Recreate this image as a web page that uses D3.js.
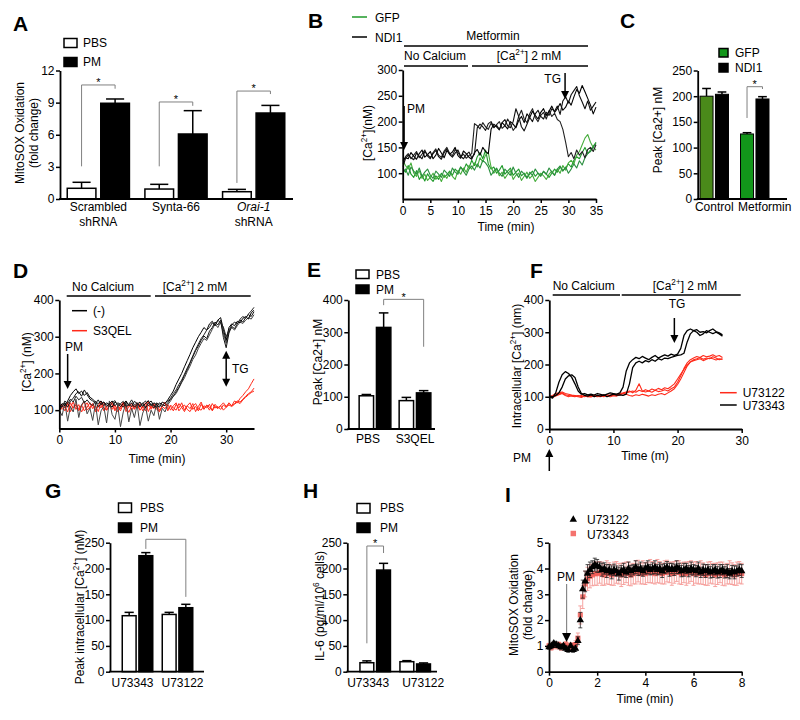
<!DOCTYPE html>
<html><head><meta charset="utf-8">
<script src="https://cdn.jsdelivr.net/npm/d3@7"></script>
<style>body{margin:0;background:#fff}svg{display:block}</style>
</head><body>
<script>
// ================= DATA =================
// Panel A
const A_groupLabels = [["Scrambled","shRNA"],["Synta-66"],["Orai-1","shRNA"]];
const A_legend = ["PBS","PM"];
const A_PBS = [1.0, 0.93, 0.68];
const A_PBS_err = [0.56, 0.44, 0.22];
const A_PM = [8.94, 6.07, 8.03];
const A_PM_err = [0.40, 2.18, 0.71];
const A_yTicks = [0,3,6,9,12];

// Panel B (samples every 0.5 min, 0..35)
const B_step = 0.5;
const B_NDI1_1 = [118,132,138,128,135,142,130,137,145,133,128,140,147,135,131,143,150,138,134,146,140,132,137,129,134,138,196,192,186,198,190,185,197,188,194,200,187,192,205,196,183,190,210,222,205,198,215,225,208,200,212,218,205,221,210,216,204,200,185,160,132,140,128,145,135,142,130,146,150,142,155];
const B_NDI1_2 = [125,130,128,140,133,127,138,145,131,136,142,128,135,148,139,130,144,137,141,150,134,129,143,138,131,127,140,146,135,150,142,138,185,195,190,184,198,192,186,200,195,188,202,210,198,215,208,220,212,205,218,225,212,220,230,218,225,235,222,228,240,232,248,262,255,270,258,245,232,215,228];
const B_NDI1_3 = [112,128,135,130,126,139,133,128,142,136,130,138,144,132,127,140,147,136,131,139,145,133,128,136,141,130,137,188,195,190,183,196,200,189,193,185,198,204,192,188,200,225,210,190,182,195,208,200,215,222,210,205,218,212,225,220,230,214,240,248,236,252,260,268,250,238,225,240,222,230,238];
const B_GFP_1 = [110,102,115,98,92,105,88,96,85,99,90,84,95,88,100,92,97,104,96,108,102,112,105,118,110,125,115,132,140,128,145,118,108,112,100,106,115,98,104,110,96,102,108,95,100,92,98,104,94,100,96,103,98,92,100,108,102,112,105,110,118,112,125,132,128,140,150,138,145,152,160];
const B_GFP_2 = [125,115,108,120,100,94,105,90,98,86,92,100,88,95,84,97,90,102,94,88,105,98,110,102,115,108,120,112,130,122,135,140,112,100,108,95,102,90,98,105,88,96,100,86,94,102,90,96,84,92,100,95,88,98,104,96,108,100,115,106,120,125,118,135,142,155,168,175,160,150,145];
const B_GFP_3 = [100,108,96,112,104,98,110,94,102,108,96,90,104,98,92,106,100,94,110,102,98,112,104,96,108,114,106,118,110,125,120,112,96,104,110,100,94,108,102,96,112,100,92,104,98,90,102,96,108,100,94,104,98,110,102,96,108,114,104,112,100,108,118,110,124,116,130,138,142,150,158];
const B_yTicks = [100,150,200,250,300];
const B_xTicks = [0,5,10,15,20,25,30,35];

// Panel C
const C_groups = ["Control","Metformin"];
const C_legend = ["GFP","NDI1"];
const C_GFP = [200, 126.5];
const C_GFP_err = [15, 2.5];
const C_NDI1 = [203.7, 194.6];
const C_NDI1_err = [4.5, 4.5];
const C_yTicks = [0,50,100,150,200,250];

// Panel D (samples every 0.5 min, 0..35)
const D_step = 0.5;
const D_ctrl_1 = [105,118,112,125,140,150,158,145,152,140,148,135,130,122,118,125,112,120,115,108,122,116,110,118,125,112,120,108,116,122,110,118,126,112,120,115,108,122,118,128,140,152,170,185,200,218,235,252,270,285,300,312,325,318,335,342,330,345,352,320,290,325,335,330,342,338,350,355,348,365,372];
const D_ctrl_2 = [98,112,120,108,125,132,145,150,138,155,142,130,125,118,128,115,122,110,118,125,112,120,116,108,122,115,110,124,118,112,120,106,118,125,112,108,120,115,112,120,130,138,150,162,178,195,210,228,245,262,275,290,302,295,315,325,340,332,345,298,270,310,328,322,335,345,340,352,360,355,368];
const D_ctrl_3 = [115,108,125,118,130,122,138,128,135,120,128,118,112,125,108,118,122,115,110,120,126,112,118,124,110,116,128,114,120,108,118,125,112,118,106,120,114,110,120,125,132,145,155,170,182,198,215,230,248,265,280,295,305,318,325,338,330,345,338,326,300,318,332,340,335,348,355,350,362,370,380];
const D_ctrl_4 = [100,85,120,70,110,95,130,80,115,125,90,105,72,118,60,98,110,65,125,88,75,112,55,95,120,68,105,80,115,58,92,110,70,100,85,118,75,105,95,115,125,138,145,160,175,188,205,220,238,250,268,282,295,290,305,320,335,325,340,310,282,315,325,318,330,340,336,345,352,348,360];
const D_s3qel_1 = [105,112,98,118,108,122,102,115,95,110,120,104,116,100,112,125,98,108,118,102,114,96,110,122,104,116,100,112,106,118,98,110,124,102,114,108,96,112,120,104,110,98,116,106,120,100,112,104,118,96,110,122,102,114,108,100,116,106,112,120,110,118,112,125,120,132,140,150,158,172,185];
const D_s3qel_2 = [118,102,110,95,120,106,114,98,112,124,100,108,118,96,114,106,122,100,110,116,98,112,104,120,96,110,118,102,114,100,108,120,96,112,104,118,100,110,122,98,114,106,100,118,108,96,112,120,102,110,98,116,104,112,100,118,106,110,102,114,108,120,112,118,125,122,130,138,145,150,160];
const D_s3qel_3 = [100,115,106,122,96,110,118,102,114,98,108,120,104,112,96,118,106,100,114,122,102,110,98,116,108,94,112,104,120,100,110,98,114,106,118,102,96,110,104,116,100,112,120,98,108,114,102,96,110,118,104,100,112,106,116,98,110,104,112,100,108,114,110,116,122,118,128,135,142,148,152];
const D_yTicks = [100,200,300,400];
const D_xTicks = [0,10,20,30];

// Panel E
const E_groups = ["PBS","S3QEL"];
const E_legend = ["PBS","PM"];
const E_PBS = [103, 88];
const E_PBS_err = [4, 10];
const E_PM = [315, 112];
const E_PM_err = [45, 7];
const E_yTicks = [0,100,200,300,400];

// Panel F (samples every 0.5 min, 0..27)
const F_step = 0.5;
const F_U73343_1 = [100,96,112,145,168,178,172,160,140,118,108,110,106,108,105,110,107,104,108,112,110,108,112,130,180,205,215,222,218,225,220,215,222,228,220,225,230,226,232,228,232,250,290,305,310,305,308,300,302,298,305,310,302,298,292];
const F_U73343_2 = [102,100,104,112,130,155,165,168,160,130,110,104,102,106,100,104,102,106,100,104,108,105,106,104,108,140,190,205,210,205,212,208,215,210,218,214,220,218,222,225,228,230,235,270,295,305,300,290,295,305,300,296,300,295,288];
const F_U73122_1 = [100,104,110,112,115,110,108,105,104,102,104,100,103,101,105,102,104,100,106,104,108,105,110,112,115,118,112,120,140,118,115,118,114,120,116,118,122,118,125,130,145,165,188,205,215,220,225,222,228,224,226,230,225,228,222];
const F_U73122_2 = [98,100,105,108,112,106,104,102,100,104,101,103,100,104,102,100,103,106,102,105,104,108,106,110,108,104,102,106,104,108,105,102,106,104,108,110,106,112,118,125,138,155,175,195,208,215,218,222,216,220,218,224,220,215,218];
const F_U73122_3 = [102,98,102,106,110,104,100,104,102,100,98,102,100,99,103,101,100,104,102,100,103,102,106,110,112,115,118,114,120,116,122,118,124,120,126,122,128,125,132,140,155,170,185,198,208,212,215,218,212,216,220,218,214,218,216];
const F_yTicks = [0,100,200,300,400];
const F_xTicks = [0,10,20,30];

// Panel G
const G_groups = ["U73343","U73122"];
const G_legend = ["PBS","PM"];
const G_PBS = [108.5, 111];
const G_PBS_err = [6.5, 4];
const G_PM = [224.8, 124];
const G_PM_err = [6, 6.6];
const G_yTicks = [0,50,100,150,200,250];

// Panel H
const H_groups = ["U73343","U73122"];
const H_legend = ["PBS","PM"];
const H_PBS = [17.4, 19.4];
const H_PBS_err = [3.6, 2];
const H_PM = [197, 15];
const H_PM_err = [13, 2];
const H_yTicks = [0,50,100,150,200,250];

// Panel I (samples every 0.1 min, 0..8)
const I_step = 0.1;
const I_U73122 = [0.95,1.0,1.1,1.05,1.0,0.95,1.0,0.9,0.85,1.0, 0.85,0.9,1.2,2.0,3.2,3.5,3.8,3.95,4.05,4.15, 4.1,4.05,3.95,4.0,3.9,3.95,3.85,3.95,3.9,3.8, 3.9,3.95,3.85,4.0,3.9,3.95,4.05,3.95,4.0,3.9, 4.0,4.05,3.95,4.0,4.05,3.95,4.0,3.9,4.0,4.05, 3.95,4.0,3.95,4.05,4.0,3.9,3.95,4.0,3.9,4.0, 3.95,3.9,4.0,3.85,3.95,3.9,3.95,3.85,3.9,3.95, 3.85,3.9,3.95,3.85,3.9,3.8,3.9,3.85,3.9,3.95, 3.9];
const I_U73122_err = [0.08,0.1,0.08,0.1,0.08,0.1,0.08,0.1,0.1,0.08, 0.1,0.1,0.15,0.3,0.35,0.4,0.35,0.3,0.25,0.25, 0.25,0.2,0.25,0.22,0.25,0.2,0.25,0.22,0.2,0.25, 0.22,0.25,0.2,0.25,0.22,0.2,0.25,0.22,0.25,0.2, 0.22,0.25,0.2,0.22,0.25,0.2,0.22,0.25,0.2,0.22, 0.25,0.2,0.22,0.25,0.2,0.22,0.25,0.2,0.22,0.25, 0.2,0.22,0.25,0.2,0.22,0.25,0.2,0.22,0.25,0.2, 0.22,0.25,0.2,0.22,0.25,0.2,0.22,0.25,0.2,0.22, 0.25];
const I_U73343 = [1.0,0.95,1.05,1.0,1.05,0.95,1.0,1.05,0.95,1.0, 1.0,1.05,1.3,2.2,2.9,3.4,3.6,3.7,3.75,3.8, 3.8,3.85,3.8,3.75,3.85,3.8,3.75,3.8,3.85,3.8, 3.75,3.8,3.85,3.8,3.75,3.8,3.85,3.9,3.8,3.85, 3.8,3.85,3.9,3.85,3.8,3.9,3.85,3.8,3.85,3.9, 3.85,3.8,3.85,3.9,3.85,3.8,3.85,3.8,3.85,3.9, 3.8,3.85,3.8,3.85,3.8,3.75,3.8,3.85,3.8,3.75, 3.8,3.85,3.8,3.75,3.8,3.85,3.8,3.75,3.8,3.85, 3.8];
const I_U73343_err = [0.1,0.12,0.1,0.12,0.1,0.12,0.1,0.12,0.1,0.12, 0.12,0.15,0.2,0.35,0.45,0.5,0.45,0.45,0.42,0.45, 0.45,0.42,0.45,0.4,0.45,0.42,0.4,0.45,0.42,0.4, 0.45,0.42,0.4,0.45,0.42,0.4,0.45,0.42,0.4,0.45, 0.42,0.4,0.45,0.42,0.4,0.45,0.42,0.4,0.45,0.42, 0.4,0.45,0.42,0.4,0.45,0.42,0.4,0.45,0.42,0.4, 0.45,0.42,0.4,0.45,0.42,0.4,0.45,0.42,0.4,0.45, 0.42,0.4,0.45,0.42,0.4,0.45,0.42,0.4,0.45,0.42, 0.4];
const I_yTicks = [0,1,2,3,4,5];
const I_xTicks = [0,2,4,6,8];

// ================= DRAWING =================
const FONT = "'Liberation Sans', Arial, Helvetica, sans-serif";
const svg = d3.select("body").append("svg").attr("width",800).attr("height",720)
  .style("font-family",FONT).style("background","#fff");
const defs = svg.append("defs");
const fmt = d3.format("d");

function txt(x,y,parts,o={}){
  const size=o.size||12;
  const t=svg.append("text").attr("x",x).attr("y",y).attr("font-size",size)
    .attr("fill",o.fill||"#000").attr("text-anchor",o.anchor||"start").style("white-space","pre");
  if(o.bold) t.attr("font-weight","bold");
  if(o.italic) t.attr("font-style","italic");
  if(o.rot) t.attr("transform",`rotate(-90,${x},${y})`);
  let pend=0;
  (Array.isArray(parts)?parts:[parts]).forEach(p=>{
    if(typeof p==="string"){const s=t.append("tspan").text(p); if(pend){s.attr("dy",pend);pend=0;}}
    else {t.append("tspan").attr("font-size",size*0.68).attr("dy",-size*0.38).text(p.sup); pend=size*0.38;}
  });
  return t;
}
function ln(x1,y1,x2,y2,c="#000",w=1.5){
  return svg.append("line").attr("x1",x1).attr("y1",y1).attr("x2",x2).attr("y2",y2).attr("stroke",c).attr("stroke-width",w);
}
function arrow(x,y1,y2,o={}){
  const dir=y2>y1?1:-1, hl=o.hl||8, hw=o.hw||4;
  ln(x,y1,x,y2-dir*hl*0.7,o.color||"#000",o.sw||1.5);
  svg.append("path").attr("d",`M${x-hw},${y2-dir*hl}L${x+hw},${y2-dir*hl}L${x},${y2}Z`).attr("fill","#000");
}
function styleAxis(g){
  g.select(".domain").attr("stroke","#000").attr("stroke-width",1.8);
  g.selectAll(".tick line").attr("stroke","#000").attr("stroke-width",1.5);
  g.selectAll(".tick text").attr("font-size",12).attr("font-family",FONT).attr("fill","#000");
}
function yAxis(scale,x,ticks){
  const g=svg.append("g").attr("transform",`translate(${x},0)`)
    .call(d3.axisLeft(scale).tickValues(ticks).tickFormat(fmt).tickSize(4).tickSizeOuter(0).tickPadding(1.5));
  styleAxis(g); return g;
}
function xAxis(scale,y,ticks){
  const g=svg.append("g").attr("transform",`translate(0,${y})`)
    .call(d3.axisBottom(scale).tickValues(ticks).tickFormat(fmt).tickSize(4).tickSizeOuter(0).tickPadding(3));
  styleAxis(g); return g;
}
function bracket(xl,xr,yt,ylb,yrb){
  svg.append("path").attr("d",`M${xl},${ylb}V${yt}H${xr}V${yrb}`).attr("fill","none")
    .attr("stroke","#808080").attr("stroke-width",1);
}
function star(x,y){ txt(x,y,"*",{anchor:"middle",size:11}); }
function legendBox(x,y,w,h,fill,label,tx,ty){
  svg.append("rect").attr("x",x).attr("y",y).attr("width",w).attr("height",h).attr("fill",fill)
    .attr("stroke","#000").attr("stroke-width",1.5);
  txt(tx,ty,label);
}

function barPanel(o){
  const y=d3.scaleLinear().domain(o.yDomain).range([o.yBot,o.yTop]);
  const xg=d3.scaleBand().domain(d3.range(o.values[0].length)).range(o.band).paddingInner(o.pin).paddingOuter(o.pin/2);
  const xs=d3.scaleBand().domain(d3.range(o.values.length)).range([0,xg.bandwidth()]).paddingInner(o.sub);
  o.values.forEach((vals,si)=>vals.forEach((v,gi)=>{
    const bx=xg(gi)+xs(si), bw=xs.bandwidth(), cx=bx+bw/2, e=o.errors[si][gi];
    ln(cx,y(v),cx,y(v+e),"#000",1.5);
    ln(cx-bw*0.3,y(v+e),cx+bw*0.3,y(v+e),"#000",1.5);
    svg.append("rect").attr("x",bx+0.75).attr("y",y(v)).attr("width",bw-1.5).attr("height",o.yBot-y(v))
      .attr("fill",o.fill(si,gi)).attr("stroke","#000").attr("stroke-width",o.sw||1.5);
  }));
  yAxis(y,o.axisX,o.ticks);
  ln(o.axisX-0.9,o.yBot,o.axisEnd,o.yBot,"#000",1.8);
  return {y, cx:(gi,si)=>xg(gi)+xs(si)+xs.bandwidth()/2, gc:gi=>xg(gi)+xg.bandwidth()/2};
}
let clipN=0;
function clip(x0,y0,x1,y1){
  const id="clip"+(clipN++);
  defs.append("clipPath").attr("id",id).append("rect").attr("x",x0).attr("y",y0).attr("width",x1-x0).attr("height",y1-y0);
  return `url(#${id})`;
}
function traces(list,x,y,step,color,w,cp){
  const g=svg.append("g").attr("clip-path",cp);
  const line=d3.line().x((d,i)=>x(i*step)).y(d=>y(d));
  list.forEach((arr,k)=>g.append("path").datum(arr).attr("d",line).attr("fill","none")
    .attr("stroke",Array.isArray(color)?color[k%color.length]:color).attr("stroke-width",w).attr("stroke-linejoin","round"));
}

// ---------- Panel A ----------
(function(){
  const p=barPanel({yDomain:[0,12],yTop:70.5,yBot:199,axisX:60,axisEnd:293,band:[59.5,292.5],pin:0.18,sub:0.1,
    ticks:A_yTicks,values:[A_PBS,A_PM],errors:[A_PBS_err,A_PM_err],fill:(si)=>si===0?"#fff":"#000"});
  A_groupLabels.forEach((lines,gi)=>lines.forEach((l,li)=>txt(p.gc(gi),211+li*15,l,{anchor:"middle",italic:l==="Orai-1"})));
  const y=p.y;
  bracket(p.cx(0,0),p.cx(0,1),y(10.65),y(3.05),y(10.3)); star(p.gc(0),y(10.65)+1);
  bracket(p.cx(1,0),p.cx(1,1),y(9.06),y(3.05),y(8.7)); star(p.gc(1),y(9.06)+1);
  bracket(p.cx(2,0),p.cx(2,1),y(10.08),y(1.5),y(9.8)); star(p.gc(2),y(10.08)+1);
  legendBox(64,38.5,13,9,"#fff",A_legend[0],83,47);
  legendBox(64,57.5,13,9,"#000",A_legend[1],83,66);
  txt(24,133,"MitoSOX Oxidation",{rot:true,anchor:"middle"});
  txt(38,133,"(fold change)",{rot:true,anchor:"middle"});
  txt(13,31,"A",{size:21,bold:true});
})();

// ---------- Panel B ----------
(function(){
  const x=d3.scaleLinear().domain([0,35]).range([402.7,596]);
  const y=d3.scaleLinear().domain([50,300]).range([199,70]);
  const cp=clip(402.7,60,598,199);
  traces([B_GFP_1,B_GFP_2,B_GFP_3],x,y,B_step,["#1f9a2a","#46ad3c","#2a8f3f"],1.1,cp);
  traces([B_NDI1_1,B_NDI1_2,B_NDI1_3],x,y,B_step,["#222","#000","#111"],1.1,cp);
  yAxis(y,402.7,B_yTicks);
  xAxis(x,199,B_xTicks);
  txt(506,231,"Time (min)",{anchor:"middle"});
  txt(372,133,["[Ca",{sup:"2+"},"](nM)"],{rot:true,anchor:"middle"});
  ln(352,17,367,17,"#1f9a2a",1.5); txt(375,22,"GFP");
  ln(352,37,367,37,"#000",1.5); txt(375,42,"NDI1");
  txt(493,40,"Metformin",{anchor:"middle"});
  ln(404,46,588,46,"#000",1.5);
  txt(404,60,"No Calcium");
  ln(404,66,468,66,"#000",1.5);
  txt(529,60,["[Ca",{sup:"2+"},"] 2 mM"],{anchor:"middle"});
  ln(472,66,588,66,"#000",1.5);
  txt(407,113,"PM");
  arrow(x(0.25),106,150);
  txt(561,83,"TG",{anchor:"end"});
  arrow(x(29.4),73,99);
  txt(308,28,"B",{size:21,bold:true});
})();

// ---------- Panel C ----------
(function(){
  const p=barPanel({yDomain:[0,250],yTop:70.5,yBot:199,axisX:697.7,axisEnd:787,band:[694,775],pin:0.26,sub:0.06,
    ticks:C_yTicks,values:[C_GFP,C_NDI1],errors:[C_GFP_err,C_NDI1_err],sw:1,
    fill:(si,gi)=>si===1?"#000":(gi===0?"#4a8a1a":"#12961a")});
  txt(p.gc(0),211,C_groups[0],{anchor:"middle"});
  txt(p.gc(1)+10,211,C_groups[1],{anchor:"middle"});
  const y=p.y;
  bracket(p.cx(1,0),p.cx(1,1),y(218.5),y(157.6),y(214)); star(p.gc(1),y(218.5)+1);
  legendBox(719,48.5,9,8.5,"#12961a",C_legend[0],735,57);
  legendBox(719,63.5,9,8.5,"#000",C_legend[1],735,72);
  txt(662,130,"Peak [Ca2+] nM",{rot:true,anchor:"middle"});
  txt(620,28,"C",{size:21,bold:true});
})();

// ---------- Panel D ----------
(function(){
  const x=d3.scaleLinear().domain([0,35]).range([59.3,254]);
  const y=d3.scaleLinear().domain([50,400]).range([428.5,300]);
  const cp=clip(59.3,290,256,428.5);
  traces([D_s3qel_1,D_s3qel_2,D_s3qel_3],x,y,D_step,"#ff2a1a",1,cp);
  traces([D_ctrl_4,D_ctrl_1,D_ctrl_2,D_ctrl_3],x,y,D_step,["#444","#000","#111","#222"],1,cp);
  yAxis(y,59.3,D_yTicks);
  xAxis(x,428.5,D_xTicks);
  txt(157,463,"Time (min)",{anchor:"middle"});
  txt(31,362,["[Ca",{sup:"2+"},"] (nM)"],{rot:true,anchor:"middle"});
  txt(72,291,"No Calcium"); ln(66.7,296,150.7,296,"#000",1.5);
  txt(195,291,["[Ca",{sup:"2+"},"] 2 mM"],{anchor:"middle"}); ln(155,296,250.7,296,"#000",1.5);
  ln(72,310.7,87,310.7,"#000",1.5); txt(93,315,"(-)");
  ln(72,330.7,87,330.7,"#ff2a1a",1.5); txt(93,335,"S3QEL");
  txt(65,350.5,"PM"); arrow(x(1.5),354,389);
  const tx=x(30);
  ln(tx,357,tx,380,"#000",1.5);
  svg.append("path").attr("d",`M${tx-4},${358.7}L${tx+4},${358.7}L${tx},${350.7}Z`).attr("fill","#000");
  svg.append("path").attr("d",`M${tx-4},${378.7}L${tx+4},${378.7}L${tx},${386.7}Z`).attr("fill","#000");
  txt(232,373,"TG");
  txt(13,278,"D",{size:21,bold:true});
})();

// ---------- Panel E ----------
(function(){
  const p=barPanel({yDomain:[0,400],yTop:300,yBot:429,axisX:348.3,axisEnd:435,band:[355,435],pin:0.17,sub:0.08,
    ticks:E_yTicks,values:[E_PBS,E_PM],errors:[E_PBS_err,E_PM_err],fill:(si)=>si===0?"#fff":"#000"});
  txt(p.gc(0)-7,443,E_groups[0],{anchor:"middle"});
  txt(p.gc(1),443,E_groups[1],{anchor:"middle"});
  const y=p.y;
  bracket(p.cx(0,1),p.cx(1,1),y(402),y(384),y(255));
  star((p.cx(0,1)+p.cx(1,1))/2,y(402)+1.5);
  legendBox(356,270,13,8.5,"#fff",E_legend[0],376,279);
  legendBox(356,285,13,8.5,"#000",E_legend[1],376,294);
  txt(322,362,"Peak [Ca2+] nM",{rot:true,anchor:"middle"});
  txt(307,277,"E",{size:21,bold:true});
})();

// ---------- Panel F ----------
(function(){
  const x=d3.scaleLinear().domain([0,30]).range([549.3,741.7]);
  const y=d3.scaleLinear().domain([0,400]).range([429,300]);
  const cp=clip(549.3,290,745,429);
  traces([F_U73122_1,F_U73122_2,F_U73122_3],x,y,F_step,"#ff2a1a",1.1,cp);
  traces([F_U73343_1,F_U73343_2],x,y,F_step,"#000",1.3,cp);
  yAxis(y,549.3,F_yTicks);
  xAxis(x,429,F_xTicks);
  txt(645,460,"Time (m)",{anchor:"middle"});
  txt(521,366,["Intracellular [Ca",{sup:"2+"},"] (nm)"],{rot:true,anchor:"middle"});
  txt(552.7,290,"No Calcium"); ln(552.7,295,620,295,"#000",1.5);
  txt(685,290,["[Ca",{sup:"2+"},"] 2 mM"],{anchor:"middle"}); ln(621.7,295,740.7,295,"#000",1.5);
  txt(677,308,"TG",{anchor:"middle"}); arrow(x(19.5),318,343);
  ln(720,392.7,736.7,392.7,"#ff2a1a",1.5); txt(742.7,397,"U73122");
  ln(720,405,736.7,405,"#000",1.5); txt(742.7,409.5,"U73343");
  txt(513,462,"PM"); arrow(x(0),471,449);
  txt(530,278,"F",{size:21,bold:true});
})();

// ---------- Panel G ----------
(function(){
  const p=barPanel({yDomain:[0,250],yTop:542.7,yBot:671.7,axisX:110,axisEnd:204,band:[117.5,197.5],pin:0.2,sub:0.08,
    ticks:G_yTicks,values:[G_PBS,G_PM],errors:[G_PBS_err,G_PM_err],fill:(si)=>si===0?"#fff":"#000"});
  txt(p.gc(0)-5,687,G_groups[0],{anchor:"middle"});
  txt(p.gc(1)+5,687,G_groups[1],{anchor:"middle"});
  const y=p.y;
  bracket(p.cx(0,1),p.cx(1,1),y(256.6),y(238),y(145));
  legendBox(118.5,503,13,9.5,"#fff",G_legend[0],140,512);
  legendBox(118.5,523,13,9.5,"#000",G_legend[1],140,532);
  txt(84,607,["Peak intracellular [Ca",{sup:"2+"},"] (nM)"],{rot:true,anchor:"middle"});
  txt(45,498,"G",{size:21,bold:true});
})();

// ---------- Panel H ----------
(function(){
  const p=barPanel({yDomain:[0,250],yTop:542.7,yBot:671.7,axisX:347.3,axisEnd:437,band:[355.2,435.2],pin:0.2,sub:0.08,
    ticks:H_yTicks,values:[H_PBS,H_PM],errors:[H_PBS_err,H_PM_err],fill:(si)=>si===0?"#fff":"#000"});
  txt(p.gc(0)-7,687,H_groups[0],{anchor:"middle"});
  txt(p.gc(1)+8,687,H_groups[1],{anchor:"middle"});
  const y=p.y;
  bracket(p.cx(0,0),p.cx(0,1),y(243.6),y(55),y(230)); star((p.cx(0,0)+p.cx(0,1))/2,y(243.6)+1);
  legendBox(357,503.5,13,9.5,"#fff",H_legend[0],380,512);
  legendBox(357,523,13,9.5,"#000",H_legend[1],380,532);
  txt(324,606,["IL-6 (pg/ml/10",{sup:"6"}," cells)"],{rot:true,anchor:"middle"});
  txt(303,498,"H",{size:21,bold:true});
})();

// ---------- Panel I ----------
(function(){
  const x=d3.scaleLinear().domain([0,8]).range([549,741.7]);
  const y=d3.scaleLinear().domain([0,5]).range([671.7,542.7]);
  const red="#f25a55", redErr="#f59a96";
  const gR=svg.append("g");
  I_U73343.forEach((v,i)=>{
    const cx=x(i*I_step), e=I_U73343_err[i];
    gR.append("line").attr("x1",cx).attr("x2",cx).attr("y1",y(v-e)).attr("y2",y(v+e)).attr("stroke",redErr).attr("stroke-width",0.9);
    gR.append("line").attr("x1",cx-2).attr("x2",cx+2).attr("y1",y(v-e)).attr("y2",y(v-e)).attr("stroke",redErr).attr("stroke-width",0.9);
    gR.append("line").attr("x1",cx-2).attr("x2",cx+2).attr("y1",y(v+e)).attr("y2",y(v+e)).attr("stroke",redErr).attr("stroke-width",0.9);
  });
  gR.selectAll("path.sq").data(I_U73343).join("path").attr("class","sq")
    .attr("d",d3.symbol().type(d3.symbolSquare).size(26))
    .attr("transform",(d,i)=>`translate(${x(i*I_step)},${y(d)})`).attr("fill",red).attr("opacity",0.85);
  const gB=svg.append("g");
  I_U73122.forEach((v,i)=>{
    const cx=x(i*I_step), e=I_U73122_err[i];
    gB.append("line").attr("x1",cx).attr("x2",cx).attr("y1",y(v-e)).attr("y2",y(v+e)).attr("stroke","#222").attr("stroke-width",0.8);
    gB.append("line").attr("x1",cx-2).attr("x2",cx+2).attr("y1",y(v+e)).attr("y2",y(v+e)).attr("stroke","#222").attr("stroke-width",0.8);
    gB.append("line").attr("x1",cx-2).attr("x2",cx+2).attr("y1",y(v-e)).attr("y2",y(v-e)).attr("stroke","#222").attr("stroke-width",0.8);
  });
  gB.selectAll("path.tr").data(I_U73122).join("path").attr("class","tr")
    .attr("d",d3.symbol().type(d3.symbolTriangle).size(24))
    .attr("transform",(d,i)=>`translate(${x(i*I_step)},${y(d)})`).attr("fill","#000");
  yAxis(y,549,I_yTicks);
  xAxis(x,671.7,I_xTicks);
  txt(645,703,"Time (min)",{anchor:"middle"});
  txt(518,605,"MitoSOX Oxidation",{rot:true,anchor:"middle"});
  txt(532,605,"(fold change)",{rot:true,anchor:"middle"});
  svg.append("path").attr("d",d3.symbol().type(d3.symbolTriangle).size(24)).attr("transform","translate(573.3,519.5)").attr("fill","#000");
  txt(587,524,"U73122");
  svg.append("path").attr("d",d3.symbol().type(d3.symbolSquare).size(30)).attr("transform","translate(573.3,533.5)").attr("fill",red).attr("opacity",0.85);
  txt(587,538.5,"U73343");
  txt(557,581,"PM");
  arrow(x(0.73),584,642,{color:"#888",sw:1.2,hw:4.5,hl:9});
  txt(505,502,"I",{size:21,bold:true});
})();
</script>
</body></html>
